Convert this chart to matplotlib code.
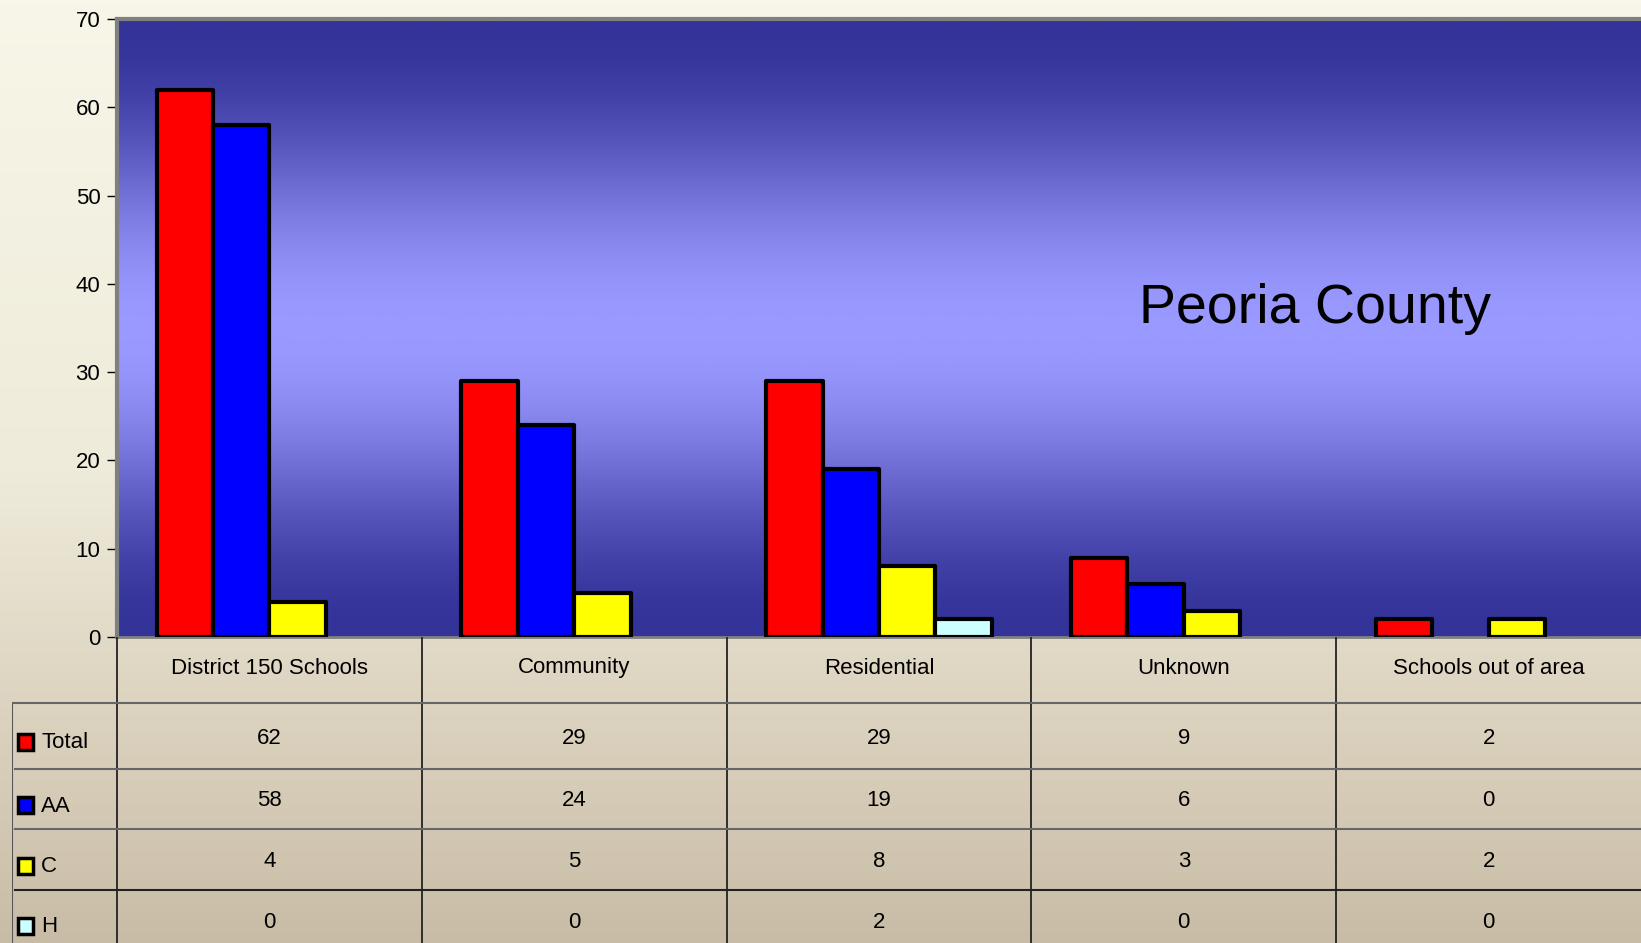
import numpy as np
import matplotlib
matplotlib.use('Agg')
import matplotlib.pyplot as plt
from matplotlib import font_manager
from matplotlib.colors import LinearSegmentedColormap
from matplotlib.patches import Rectangle

# data
categories = ['District 150 Schools', 'Community', 'Residential', 'Unknown', 'Schools out of area']
series = ['Total', 'AA', 'C', 'H']
total = [62, 29, 29, 9, 2]
aa = [58, 24, 19, 6, 0]
c = [4, 5, 8, 3, 2]
h = [0, 0, 2, 0, 0]
values = [total, aa, c, h]
colors = ['#FF0000', '#0000FF', '#FFFF00', '#CCFFFF']
yticks = [0, 10, 20, 30, 40, 50, 60, 70]

names = {f.name for f in font_manager.fontManager.ttflist}
font = 'Liberation Sans Narrow' if 'Liberation Sans Narrow' in names else 'Liberation Sans'
plt.rcParams['font.family'] = [font, 'DejaVu Sans']

W, H = 1641, 943
fig = plt.figure(figsize=(W / 100, H / 100), dpi=100)

# figure background gradient (cream -> beige)
bg = fig.add_axes([0, 0, 1, 1], zorder=-10)
bg_cmap = LinearSegmentedColormap.from_list('bg', ['#F7F6E8', '#EFEBDA', '#C9BCA6'])
bg.imshow(np.linspace(0, 1, 256).reshape(-1, 1), cmap=bg_cmap, aspect='auto', extent=[0, 1, 0, 1])
bg.axis('off')

# main plot, dark -> light -> dark gradient
ax = fig.add_axes([117 / W, 1 - 637 / H, 1 - 117 / W, (637 - 19) / H])
ax.set_xlim(-0.5, 4.5)
ax.set_ylim(0, 70)
plot_cmap = LinearSegmentedColormap.from_list('pl', ['#333399', '#9999FF'])
yy = np.linspace(0, 1, 400)
shade = (1 - np.cos(2 * np.pi * yy)) / 2
ax.imshow(shade.reshape(-1, 1), cmap=plot_cmap, aspect='auto',
          extent=[-0.5, 4.5, 0, 70], zorder=0)

x = np.arange(len(categories))
bw = 0.185
for i, vals in enumerate(values):
    edges = ['black' if v > 0 else 'none' for v in vals]
    ax.bar(x + (i - 1.5) * bw, vals, width=bw, color=colors[i], edgecolor=edges,
           linewidth=3, zorder=3, joinstyle='round')

ax.text(3.43, 37.2, 'Peoria County', fontsize=40, ha='center', va='center', color='black')

ax.set_xticks([])
ax.set_yticks(yticks)
ax.tick_params(axis='y', direction='out', length=7, width=1, labelsize=16, pad=5)
for s in ['left', 'top']:
    ax.spines[s].set_color('#808080')
    ax.spines[s].set_linewidth(3)
ax.spines['bottom'].set_color('#808080')
ax.spines['bottom'].set_linewidth(2)
ax.spines['right'].set_visible(False)

# data table below the plot
ppu = (W - 117) / 5.0
def px2x(p):
    return -0.5 + (p - 117) / ppu

tax = fig.add_axes([12 / W, 0, 1 - 12 / W, (H - 637) / H])
tax.set_xlim(px2x(12), 4.5)
tax.set_ylim(H, 637)
tax.axis('off')

row_lines = [703, 769, 829, 890, 950]
for k in range(len(categories)):
    tax.plot([k - 0.5, k - 0.5], [637, H], color='#222222', lw=1.3)
    tax.text(k, 668, categories[k], ha='center', va='center', fontsize=16)
tax.plot([px2x(12), px2x(12)], [703, H], color='#555555', lw=1.5)
tax.plot([px2x(12), 4.5], [703, 703], color='#666666', lw=1.5)
for j, yl in enumerate(row_lines[1:4]):
    tax.plot([px2x(15), 4.5], [yl, yl], color='#666666' if j < 2 else '#222222', lw=1.5)

for i, name in enumerate(series):
    yc = (row_lines[i] + row_lines[i + 1]) / 2
    tax.add_patch(Rectangle((px2x(18), yc + 6 - 8), 15 / ppu, 16, facecolor=colors[i],
                            edgecolor='black', lw=2.5))
    tax.text(px2x(41), yc + 7, name, ha='left', va='center', fontsize=16)
    for k, v in enumerate(values[i]):
        tax.text(k, yc + 2, str(v), ha='center', va='center', fontsize=16)

fig.savefig('out.png', dpi=100)
